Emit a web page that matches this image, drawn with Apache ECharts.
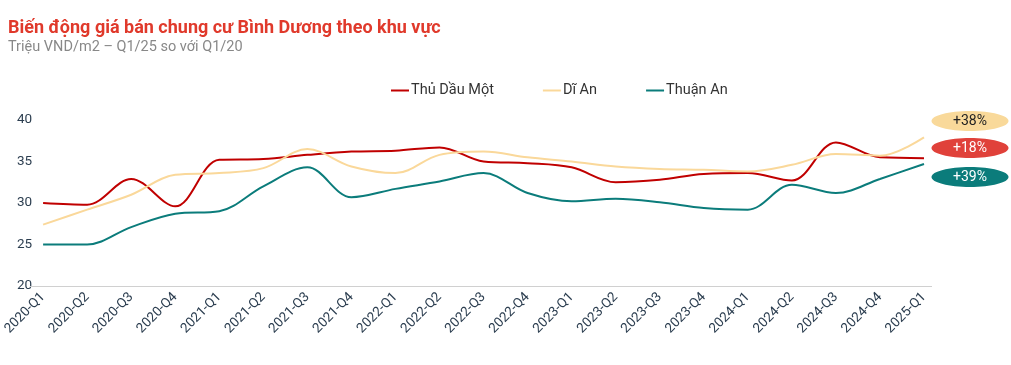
<!DOCTYPE html>
<html>
<head>
<meta charset="utf-8">
<script src="https://cdn.jsdelivr.net/npm/echarts@6/dist/echarts.min.js"></script>
<style>
html,body{margin:0;padding:0;background:#fff;}
#chart{width:1011px;height:365px;}
</style>
</head>
<body>
<div id="chart"></div>
<script>
const categories = ['2020-Q1','2020-Q2','2020-Q3','2020-Q4','2021-Q1','2021-Q2','2021-Q3','2021-Q4','2022-Q1','2022-Q2','2022-Q3','2022-Q4','2023-Q1','2023-Q2','2023-Q3','2023-Q4','2024-Q1','2024-Q2','2024-Q3','2024-Q4','2025-Q1'];
const thuDauMot = [30.0,29.8,32.9,29.6,35.2,35.3,35.8,36.2,36.3,36.7,35.0,34.8,34.3,32.5,32.8,33.5,33.6,32.7,37.3,35.5,35.4];
const diAn = [27.4,29.2,31.0,33.4,33.6,34.2,36.5,34.4,33.6,35.8,36.2,35.5,35.0,34.4,34.1,34.0,33.8,34.6,35.9,35.7,37.9];
const thuanAn = [25.0,25.0,27.1,28.7,29.0,32.0,34.3,30.7,31.7,32.6,33.6,31.2,30.2,30.5,30.1,29.4,29.2,32.2,31.2,32.9,34.7];
const yTicks = {min:20, max:40, interval:5};
const changeLabels = ['+38%','+18%','+39%'];

const FONT = 'Roboto, "Noto Sans", sans-serif';
const chart = echarts.init(document.getElementById('chart'));

function pill(cy, fill, textColor, txt){
  return [
    {type:'ellipse', shape:{cx:970, cy:cy, rx:38.5, ry:10}, style:{fill:fill}, z:10},
    {type:'text', x:970, y:cy, style:{text:txt, fill:textColor, font:'14px '+FONT, align:'center', verticalAlign:'middle'}, z:11}
  ];
}

chart.setOption({
  animation:false,
  backgroundColor:'#fff',
  title:[
    {text:'Biến động giá bán chung cư Bình Dương theo khu vực', left:3, top:14,
     textStyle:{color:'#E0392B', fontSize:18, fontWeight:'bold', fontFamily:FONT}},
    {text:'Triệu VND/m2 – Q1/25 so với Q1/20', left:3, top:35,
     textStyle:{color:'#888', fontSize:14.5, fontWeight:'normal', fontFamily:FONT}}
  ],
  legend:{
    left:386, top:78, itemGap:49, itemWidth:18, itemHeight:2, icon:'rect',
    textStyle:{color:'#333', fontSize:14.5, fontFamily:FONT, padding:[0,0,0,-3]},
    data:['Thủ Dầu Một','Dĩ An','Thuận An']
  },
  grid:{left:41, right:87, top:120, bottom:79},
  xAxis:{
    type:'category', data:categories, boundaryGap:false,
    axisLine:{lineStyle:{color:'#d0d0d0'}},
    axisTick:{show:false},
    axisLabel:{rotate:45, color:'#2c3e50', fontSize:13.5, fontFamily:FONT, margin:9, interval:0}
  },
  yAxis:{
    type:'value', min:yTicks.min, max:yTicks.max, interval:yTicks.interval,
    axisLine:{show:false}, axisTick:{show:false}, splitLine:{show:false},
    axisLabel:{color:'#2c3e50', fontSize:13.5, fontFamily:FONT, margin:11}
  },
  series:[
    {name:'Thủ Dầu Một', type:'line', data:thuDauMot, smooth:0.35, symbol:'none',
     lineStyle:{color:'#C00000', width:2}, itemStyle:{color:'#C00000'}},
    {name:'Dĩ An', type:'line', data:diAn, smooth:0.35, symbol:'none',
     lineStyle:{color:'#FAD89A', width:2}, itemStyle:{color:'#FAD89A'}},
    {name:'Thuận An', type:'line', data:thuanAn, smooth:0.35, symbol:'none',
     lineStyle:{color:'#0B7C7B', width:2}, itemStyle:{color:'#0B7C7B'}}
  ],
  graphic:[].concat(
    [{type:'line', shape:{x1:30, y1:286.5, x2:932, y2:286.5}, style:{stroke:'#d0d0d0', lineWidth:1}, z:1}],
    pill(121,'#F9D99A','#222',changeLabels[0]),
    pill(148,'#E0413A','#fff',changeLabels[1]),
    pill(177,'#0B7C7B','#fff',changeLabels[2])
  )
});
</script>
</body>
</html>
